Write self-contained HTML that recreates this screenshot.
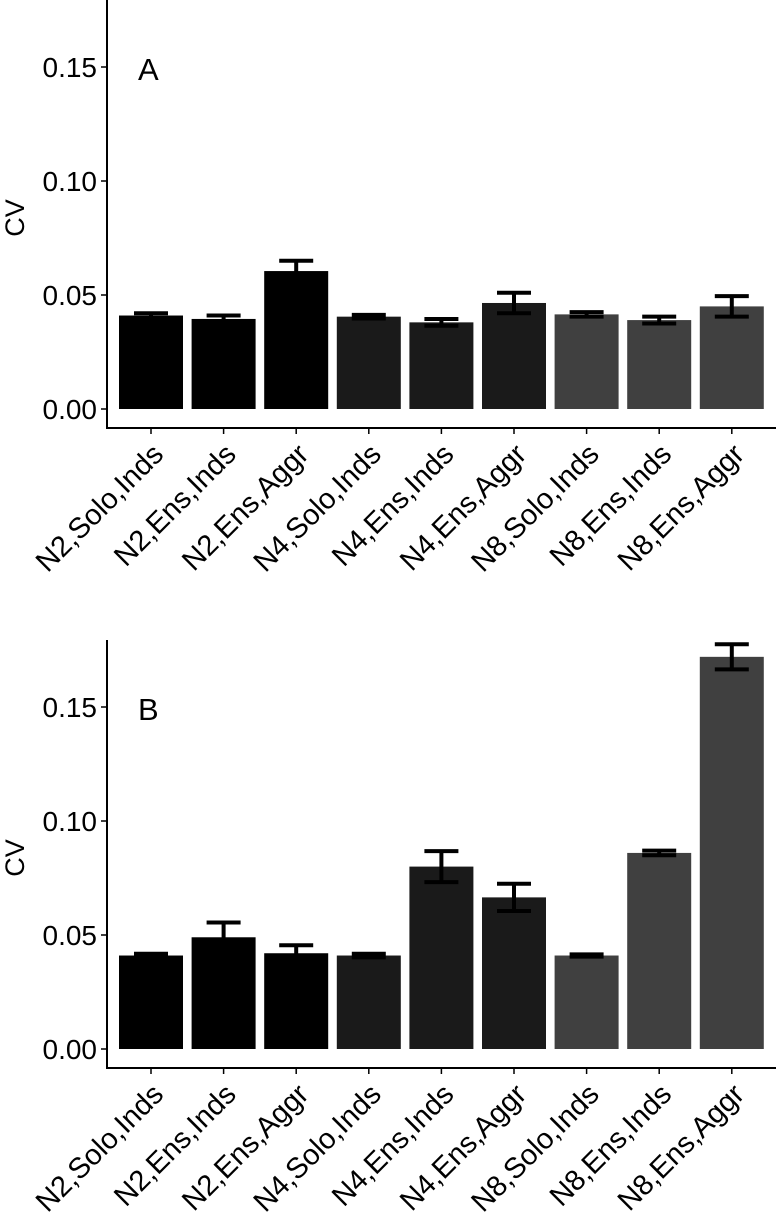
<!DOCTYPE html>
<html><head><meta charset="utf-8"><style>
body{margin:0;background:#fff}
text{font-family:"Liberation Sans",sans-serif;fill:#000}
</style></head><body>
<svg id="chart" width="776" height="1220" xmlns="http://www.w3.org/2000/svg"></svg>
<script>
const categories=["N2,Solo,Inds","N2,Ens,Inds","N2,Ens,Aggr","N4,Solo,Inds","N4,Ens,Inds","N4,Ens,Aggr","N8,Solo,Inds","N8,Ens,Inds","N8,Ens,Aggr"];
const groupColors=["#000000","#000000","#000000","#1a1a1a","#1a1a1a","#1a1a1a","#404040","#404040","#404040"];
const valuesA=[0.041,0.0395,0.0605,0.0405,0.038,0.0465,0.0415,0.039,0.045];
const errorsA=[0.001,0.0015,0.0045,0.0008,0.0015,0.0045,0.001,0.0015,0.0045];
const valuesB=[0.041,0.049,0.042,0.041,0.080,0.0665,0.041,0.086,0.172];
const errorsB=[0.0008,0.0065,0.0035,0.0008,0.0068,0.006,0.0005,0.001,0.0055];
const yTicks=[0,0.05,0.10,0.15];
const yTickLabels=["0.00","0.05","0.10","0.15"];
const svg=document.getElementById('chart');
const NS="http://www.w3.org/2000/svg";
function mk(tag,attrs,parent){const e=document.createElementNS(NS,tag);for(const k in attrs)e.setAttribute(k,attrs[k]);parent.appendChild(e);return e;}
function panel(letter,vals,errs,y0,axisTop,axisBottom){
  const g=mk('g',{},svg);
  
  
  const y=v=>y0-v/0.05*114;
  const x=i=>151+i*72.6;
  const bw=64;
  vals.forEach((v,i)=>{
    const r=mk('rect',{x:x(i)-bw/2,y:y(v),width:bw,height:y0-y(v),fill:groupColors[i]},g);
    
    
    const e=errs[i],top=y(v+e),bot=y(v-e);
    const eb=mk('path',{d:`M${x(i)-17},${top}H${x(i)+17}M${x(i)},${top}V${bot}M${x(i)-17},${bot}H${x(i)+17}`,stroke:'#000','stroke-width':4,fill:'none'},g);
    
    
    mk('line',{x1:x(i),x2:x(i),y1:axisBottom,y2:axisBottom+6,stroke:'#000','stroke-width':1.5},g);
    const t=mk('text',{'font-size':29,'text-anchor':'end',transform:`translate(${x(i)+14},${axisBottom+28}) rotate(-45)`},g);
    t.textContent=categories[i];
    
    
  });
  const ax=mk('path',{d:`M107,${axisTop}V${axisBottom}H776`,stroke:'#000','stroke-width':2,fill:'none'},g);
  
  
  yTicks.forEach((v,i)=>{
    mk('line',{x1:101,x2:107,y1:y(v),y2:y(v),stroke:'#000','stroke-width':1.5},g);
    const t=mk('text',{x:97,y:y(v)+10,'font-size':28,'text-anchor':'end'},g);
    t.textContent=yTickLabels[i];
    
    
  });
  const yt=mk('text',{'font-size':27,'text-anchor':'middle',transform:`translate(24,${(axisTop+axisBottom)/2+4}) rotate(-90)`},g);
  yt.textContent='CV';
  
  
  const pl=mk('text',{x:138,y:y(0.15)+13,'font-size':31},g);
  pl.textContent=letter;
  
  
}
panel('A',valuesA,errorsA,409,0,428);
panel('B',valuesB,errorsB,1049,640,1068);
</script>
</body></html>
